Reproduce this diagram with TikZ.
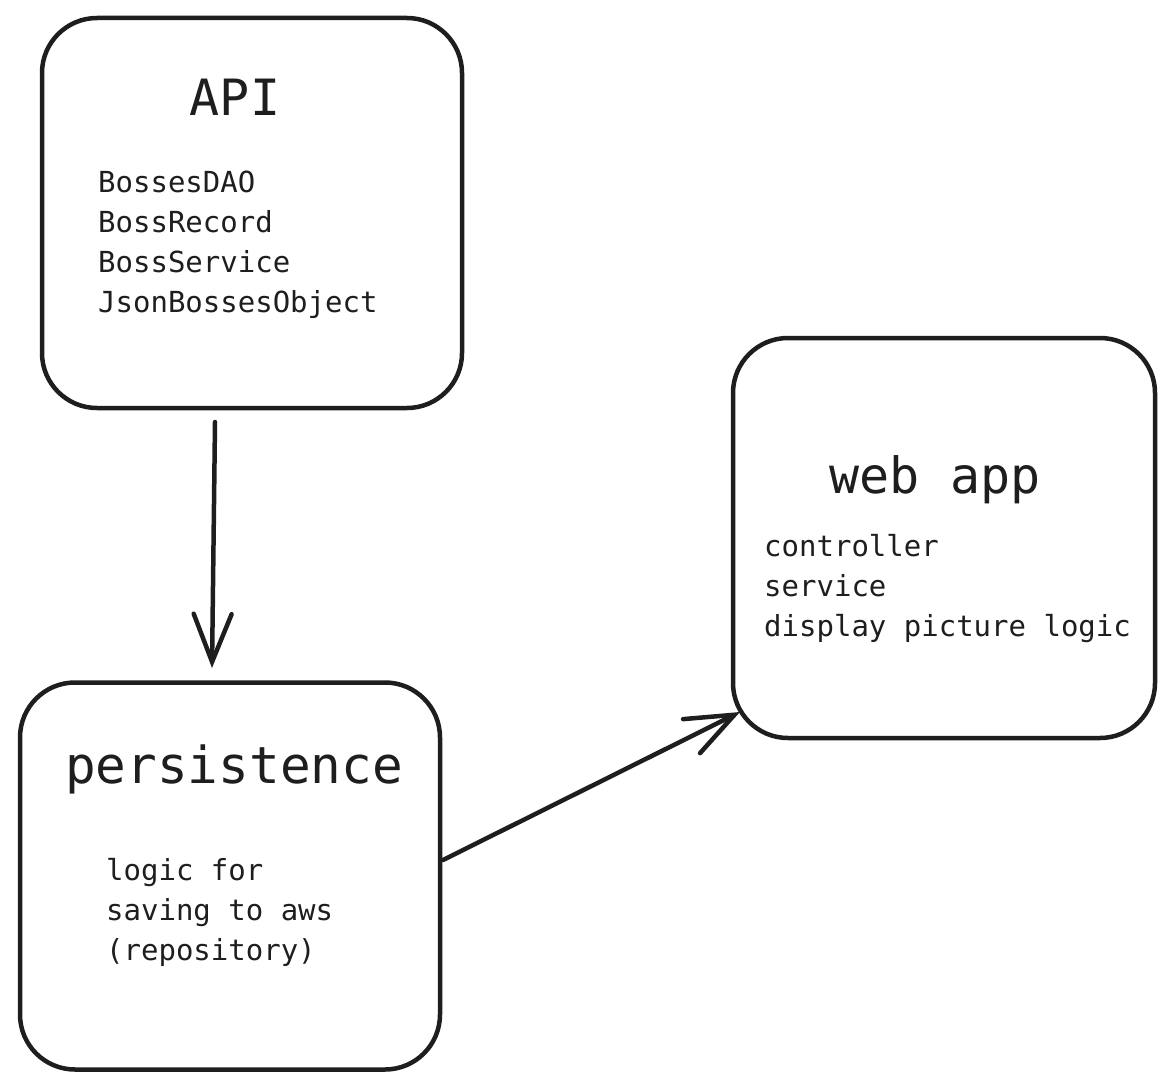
\documentclass[tikz,border=0pt]{standalone}
\usepackage{fontspec}
\setmonofont{DejaVu Sans Mono}
\usetikzlibrary{arrows.meta}
\definecolor{ink}{HTML}{1E1E1E}
\begin{document}
\begin{tikzpicture}[x=1pt,y=-1pt,
  box/.style={draw=ink,line width=4.5pt,rounded corners=55pt,inner sep=0pt},
  title/.style={anchor=base,inner sep=0pt,text=ink,font=\ttfamily\fontsize{50}{60}\selectfont},
  body/.style={anchor=base west,inner sep=0pt,text=ink,font=\ttfamily\fontsize{29}{40}\selectfont},
  conn/.style={draw=ink,line width=4.5pt,line cap=round,-{Straight Barb[length=48pt,width=38pt,line width=4.5pt,line cap=round]}}]
\useasboundingbox (0,0) rectangle (1174,1089);
\node[box,minimum width=420pt,minimum height=390pt] (api) at (252,213) {};
\node[box,minimum width=420pt,minimum height=387pt] (pers) at (230,876) {};
\node[box,minimum width=422pt,minimum height=400pt] (web) at (944,538) {};
\node[title] (apit) at (235,115) {API};
\node[body] (a1) at (98,192) {BossesDAO};
\node[body] (a2) at (98,232) {BossRecord};
\node[body] (a3) at (98,272) {BossService};
\node[body] (a4) at (98,312) {JsonBossesObject};
\node[title,font=\ttfamily\fontsize{51}{60}\selectfont] (perst) at (234,783) {persistence};
\node[body] (p1) at (106,880) {logic for};
\node[body] (p2) at (106,920) {saving to aws};
\node[body] (p3) at (106,960) {(repository)};
\node[title] (webt) at (935,493) {web app};
\node[body] (w1) at (764,556) {controller};
\node[body] (w2) at (764,596) {service};
\node[body] (w3) at (764,636) {display picture logic};
\coordinate (s1) at (215,422);
\coordinate (e1) at (212,668);
\coordinate (s2) at (443,860);
\coordinate (e2) at (740,712);
\draw[conn] (s1) -- (e1);
\draw[conn] (s2) -- (e2);
\end{tikzpicture}
\end{document}
